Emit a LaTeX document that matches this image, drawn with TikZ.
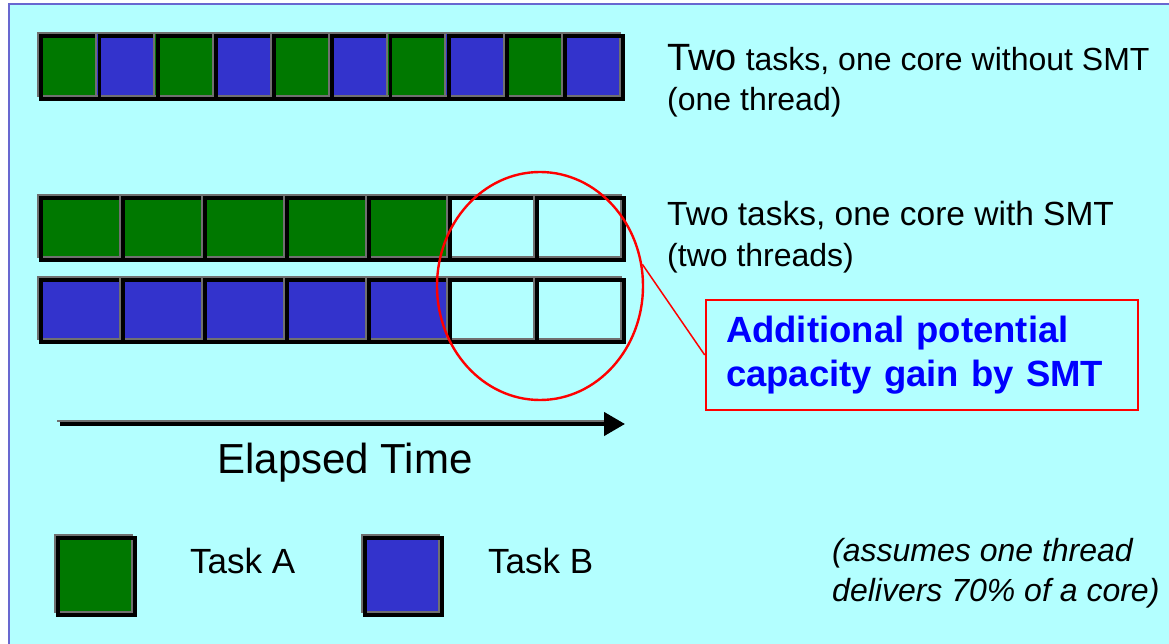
\documentclass[tikz,border=0pt]{standalone}
\usepackage{fontspec}
\setmainfont{Liberation Sans}
\usetikzlibrary{shapes.geometric, arrows.meta}

\definecolor{panel}{RGB}{179,255,255}
\definecolor{frameblue}{RGB}{104,104,208}
\definecolor{taskgreen}{RGB}{0,120,0}
\definecolor{taskblue}{RGB}{51,51,204}
\definecolor{tilegrey}{RGB}{112,112,112}
\definecolor{calloutblue}{RGB}{0,0,255}

% black outline of a tile, shifted down and to the right
\newcommand\tileedge[1]{%
  \draw[tileshadow] ([shift={(3.2pt,-3.2pt)}]#1.north west) rectangle ([shift={(3.2pt,-3.2pt)}]#1.south east);}

\begin{document}
\begin{tikzpicture}[x=1pt, y=-1pt,
  tile/.style={draw=tilegrey, line width=2pt, inner sep=0pt, outer sep=0pt,
    anchor=north west},
  tileshadow/.style={draw=black, line width=3.8pt},
  greentile/.style={tile, fill=taskgreen},
  bluetile/.style={tile, fill=taskblue},
  idletile/.style={tile, fill=panel},
  caption/.style={anchor=base west, inner sep=0pt,
    font=\fontsize{32}{40}\selectfont},
  keylabel/.style={anchor=base west, inner sep=0pt,
    font=\fontsize{35}{42}\selectfont}
]
\useasboundingbox (0,0) rectangle (1169,644);
\fill[white] (0,0) rectangle (1169,644);
\draw[frameblue, line width=2.5pt, fill=panel] (9,4) rectangle (1190,670);

% one core, no SMT: tasks alternate
\foreach \i/\c in {0/greentile,1/bluetile,2/greentile,3/bluetile,4/greentile,
                   5/bluetile,6/greentile,7/bluetile,8/greentile,9/bluetile}{
  \node[\c, minimum width=58.2pt, minimum height=63pt] (solo\i) at ({38+58.2*\i},33) {};
  \tileedge{solo\i}
}

% one core with SMT: thread A
\foreach \i/\x/\w/\c in {0/38/82/greentile,1/120/82/greentile,2/202/82/greentile,
                         3/284/82/greentile,4/366/81/greentile,5/447/87/idletile,
                         6/534/87/idletile}{
  \node[\c, minimum width=\w pt, minimum height=62pt] (ta\i) at (\x,195) {};
  \tileedge{ta\i}
}

% one core with SMT: thread B
\foreach \i/\x/\w/\c in {0/38/82/bluetile,1/120/82/bluetile,2/202/82/bluetile,
                         3/284/82/bluetile,4/366/81/bluetile,5/447/87/idletile,
                         6/534/87/idletile}{
  \node[\c, minimum width=\w pt, minimum height=62pt] (tb\i) at (\x,277) {};
  \tileedge{tb\i}
}

% captions
\node[caption] (soloA) at (667,71) {{\fontsize{38}{40}\selectfont Two} tasks, one core without SMT};
\node[caption] (soloB) at (667,111) {(one thread)};
\node[caption, font=\fontsize{33.5}{40}\selectfont] (smtA) at (667,226) {Two tasks, one core with SMT};
\node[caption] (smtB) at (667,266) {(two threads)};

% highlighted gain
\node[draw=red, line width=2.4pt, ellipse, minimum width=206pt, minimum height=228pt, inner sep=0pt] (gain) at (540,286) {};
\node[draw=red, line width=2.6pt, minimum width=432pt, minimum height=110pt,
      inner xsep=20pt, text width=392pt, align=left, text=calloutblue,
      font=\fontsize{36.5}{44}\selectfont\bfseries] (note) at (922,355)
  {Additional potential\\capacity gain by SMT};
\draw[red, line width=1.5pt] (gain.12) -- (note.west);

% time axis
\coordinate (tstart) at (60,424);
\coordinate (tend) at (625,424);
\draw[tilegrey, line width=1.8pt] ([xshift=-3pt,yshift=2.8pt]tstart) -- ([xshift=-20pt,yshift=2.8pt]tend);
\draw[black, line width=4.4pt, -{Triangle[length=21pt, width=23pt]}] (tstart) -- (tend);
\node[anchor=base, inner sep=0pt, font=\fontsize{42}{50}\selectfont] (elapsed) at (345,473) {Elapsed Time};

% legend
\node[greentile, minimum width=77pt, minimum height=77pt] (keyA) at (55,535) {};
\tileedge{keyA}
\node[keylabel] (labelA) at (190,573) {Task A};
\node[bluetile, minimum width=77pt, minimum height=77pt] (keyB) at (362,535) {};
\tileedge{keyB}
\node[keylabel] (labelB) at (488,573) {Task B};

% assumption note
\node[caption, font=\fontsize{32}{40}\selectfont\itshape] (assumeA) at (832,561) {(assumes one thread};
\node[caption, font=\fontsize{32}{40}\selectfont\itshape] (assumeB) at (832,601) {delivers 70\% of a core)};
\end{tikzpicture}
\end{document}
